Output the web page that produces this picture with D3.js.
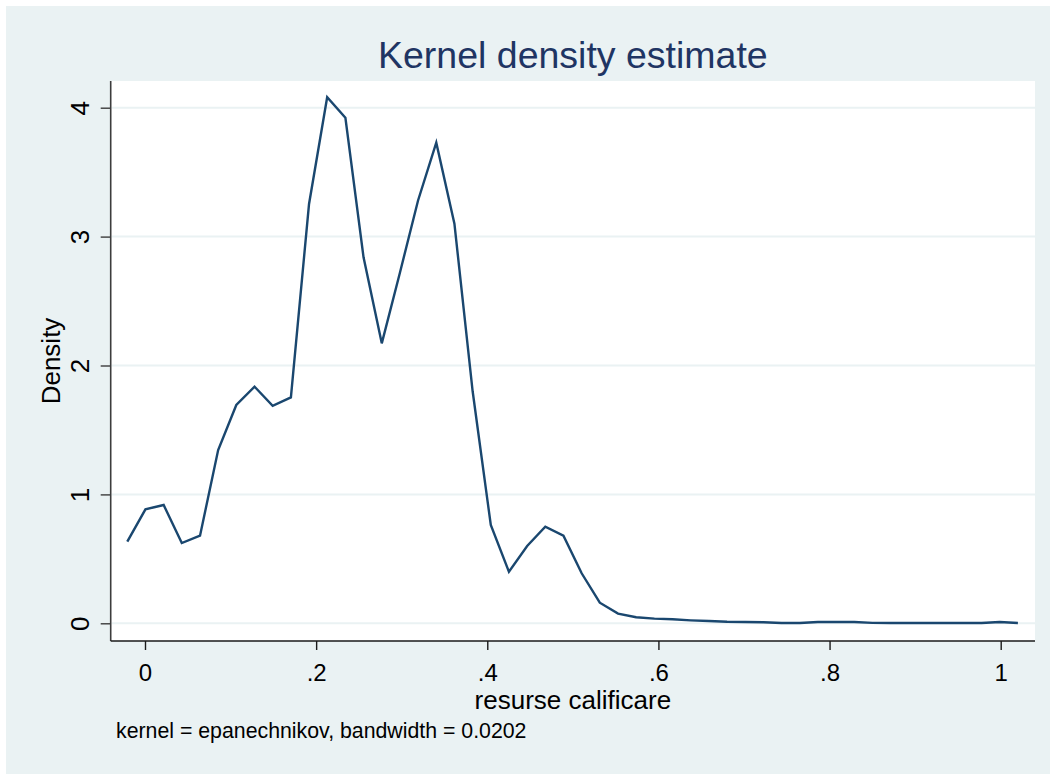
<!DOCTYPE html>
<html>
<head>
<meta charset="utf-8">
<script src="https://cdn.jsdelivr.net/npm/d3@7"></script>
<style>
  html, body { margin: 0; padding: 0; background: #ffffff; }
  svg { display: block; }
  text { font-family: "Liberation Sans", Arial, Helvetica, sans-serif; }
</style>
</head>
<body>
<svg id="chart" width="1050" height="774"></svg>
<script>
// ---- data ----
const xValues = [-0.0207, 0.0005, 0.0218, 0.0430, 0.0643, 0.0855, 0.1067, 0.1280, 0.1492, 0.1705,
                 0.1917, 0.2129, 0.2342, 0.2554, 0.2767, 0.2979, 0.3191, 0.3404, 0.3616, 0.3829,
                 0.4041, 0.4253, 0.4466, 0.4678, 0.4890, 0.5103, 0.5315, 0.5528, 0.5740, 0.5953,
                 0.6165, 0.6377, 0.6590, 0.6802, 0.7015, 0.7227, 0.7439, 0.7652, 0.7864, 0.8077,
                 0.8289, 0.8501, 0.8714, 0.8926, 0.9139, 0.9351, 0.9563, 0.9776, 0.9988, 1.0201];
const densityValues = [0.633, 0.884, 0.918, 0.623, 0.680, 1.344, 1.694, 1.836, 1.688, 1.753,
                       3.253, 4.081, 3.922, 2.839, 2.172, 2.720, 3.280, 3.729, 3.100, 1.800,
                       0.763, 0.400, 0.600, 0.750, 0.680, 0.388, 0.160, 0.075, 0.047, 0.036,
                       0.031, 0.023, 0.018, 0.012, 0.010, 0.008, 0.002, 0.002, 0.010, 0.010,
                       0.010, 0.003, 0.002, 0.002, 0.002, 0.002, 0.002, 0.002, 0.010, 0.002];
const xTicks = [0, 0.2, 0.4, 0.6, 0.8, 1];
const xTickLabels = ["0", ".2", ".4", ".6", ".8", "1"];
const yTicks = [0, 1, 2, 3, 4];
const yTickLabels = ["0", "1", "2", "3", "4"];
const titleText = "Kernel density estimate";
const xAxisTitle = "resurse calificare";
const yAxisTitle = "Density";
const noteText = "kernel = epanechnikov, bandwidth = 0.0202";

// ---- layout ----
const svg = d3.select("#chart");
const plot = { left: 110.7, right: 1035, top: 81, bottom: 641 };
const bg = "#eaf2f3";
const navy = "#1a476f";

svg.append("rect").attr("x", 0).attr("y", 0).attr("width", 1050).attr("height", 774).attr("fill", "#ffffff");
svg.append("rect").attr("x", 6).attr("y", 6).attr("width", 1044).attr("height", 768).attr("fill", bg);
svg.append("rect").attr("x", plot.left).attr("y", plot.top)
  .attr("width", plot.right - plot.left).attr("height", plot.bottom - plot.top).attr("fill", "#ffffff");

const x = d3.scaleLinear().domain([0, 1]).range([145, 1000.7]);
const y = d3.scaleLinear().domain([0, 4]).range([623.3, 107.7]);

// gridlines
svg.append("g").selectAll("line").data(yTicks).join("line")
  .attr("x1", plot.left + 1).attr("x2", plot.right)
  .attr("y1", d => y(d)).attr("y2", d => y(d))
  .attr("stroke", bg).attr("stroke-width", 2);

// density line
const points = xValues.map((v, i) => [v, densityValues[i]]);
svg.append("path").datum(points)
  .attr("d", d3.line().x(d => x(d[0])).y(d => y(d[1])))
  .attr("fill", "none").attr("stroke", navy).attr("stroke-width", 2.4)
  .attr("stroke-linejoin", "miter");

// y axis
const yAxis = d3.axisLeft(y).tickValues(yTicks).tickFormat((d, i) => yTickLabels[i])
  .tickSize(10).tickSizeOuter(0).tickPadding(0);
const gy = svg.append("g").attr("transform", `translate(${plot.left},0)`).call(yAxis);
gy.select(".domain").attr("d", `M0,${plot.top}V${plot.bottom}`).attr("stroke", "#3c3c3c").attr("stroke-width", 1.6);
gy.selectAll(".tick line").attr("stroke", "#3c3c3c").attr("stroke-width", 1.4);
gy.selectAll(".tick text")
  .attr("x", null).attr("dy", null)
  .attr("transform", "translate(-21.5,0) rotate(-90)")
  .attr("text-anchor", "middle")
  .attr("fill", "#000").style("font-size", "26px");

// x axis
const xAxis = d3.axisBottom(x).tickValues(xTicks).tickFormat((d, i) => xTickLabels[i])
  .tickSize(9).tickSizeOuter(0).tickPadding(0);
const gx = svg.append("g").attr("transform", `translate(0,${plot.bottom})`).call(xAxis);
gx.select(".domain").attr("d", `M${plot.left},0H${plot.right}`).attr("stroke", "#1a1a1a").attr("stroke-width", 1.6);
gx.selectAll(".tick line").attr("stroke", "#1a1a1a").attr("stroke-width", 1.4);
gx.selectAll(".tick text")
  .attr("y", 39.5).attr("dy", null)
  .attr("text-anchor", "middle")
  .attr("fill", "#000").style("font-size", "24px");

// titles
const cx = (plot.left + plot.right) / 2;
svg.append("text").attr("x", cx).attr("y", 68).attr("text-anchor", "middle")
  .attr("fill", "#1f3563").style("font-size", "37.5px").text(titleText);
svg.append("text").attr("x", cx).attr("y", 708.5).attr("text-anchor", "middle")
  .attr("fill", "#000").style("font-size", "26px").text(xAxisTitle);
svg.append("text").attr("transform", `translate(60,${(plot.top + plot.bottom) / 2}) rotate(-90)`)
  .attr("text-anchor", "middle").attr("fill", "#000").style("font-size", "26px").text(yAxisTitle);
svg.append("text").attr("x", 116).attr("y", 738)
  .attr("fill", "#000").style("font-size", "21.3px").text(noteText);
</script>
</body>
</html>
